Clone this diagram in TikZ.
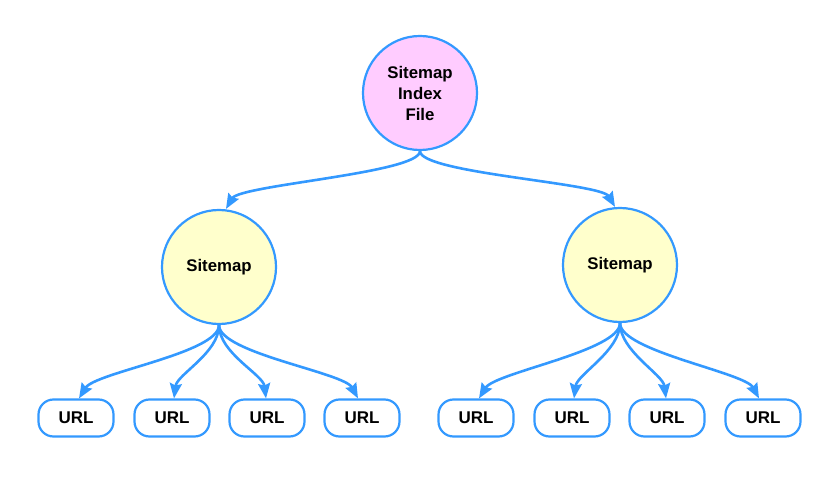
\documentclass[tikz,border=0pt]{standalone}
\usepackage{fontspec}
\setmainfont{Liberation Sans}
\usetikzlibrary{arrows.meta}
\definecolor{edgeblue}{HTML}{3399FF}
\definecolor{pinkfill}{HTML}{FFCCFF}
\definecolor{yellowfill}{HTML}{FFFFCC}
\begin{document}
\begin{tikzpicture}[x=1pt,y=-1pt,
  bigcircle/.style={circle,draw=edgeblue,line width=2.2pt,minimum size=114pt,inner sep=0pt,align=center,font=\fontsize{16.8}{21}\selectfont\bfseries},
  urlbox/.style={rectangle,rounded corners=15pt,draw=edgeblue,line width=2.2pt,fill=white,minimum width=75pt,minimum height=37pt,inner sep=0pt,font=\fontsize{17}{20}\selectfont\bfseries},
  link/.style={draw=edgeblue,line width=2.6pt,-{Stealth[length=15pt,width=12pt,inset=2pt]}}]
\useasboundingbox[fill=white] (0,0) rectangle (840,478);
% nodes
\node[bigcircle,fill=pinkfill] (idx) at (420,93) {Sitemap\\Index\\File};
\node[bigcircle,fill=yellowfill] (smL) at (219,267) {Sitemap};
\node[bigcircle,fill=yellowfill] (smR) at (620,265) {Sitemap};
\node[urlbox] (u1) at (76,418) {URL};
\node[urlbox] (u2) at (172,418) {URL};
\node[urlbox] (u3) at (267,418) {URL};
\node[urlbox] (u4) at (362,418) {URL};
\node[urlbox] (u5) at (476,418) {URL};
\node[urlbox] (u6) at (572,418) {URL};
\node[urlbox] (u7) at (667,418) {URL};
\node[urlbox] (u8) at (763,418) {URL};
% top connectors
\draw[link] (idx.south) .. controls +(0,22) and +(14,-24) .. ([xshift=7pt]smL.north);
\draw[link] (idx.south) .. controls +(0,22) and +(-14,-24) .. ([xshift=-5pt]smR.north);
% left group
\draw[link] (smL.south) .. controls +(0,28) and +(16,-26) .. ([xshift=3pt]u1.north);
\draw[link] (smL.south) .. controls +(0,28) and +(3,-24) .. ([xshift=2pt]u2.north);
\draw[link] (smL.south) .. controls +(0,28) and +(-3,-24) .. ([xshift=-1pt]u3.north);
\draw[link] (smL.south) .. controls +(0,28) and +(-14,-26) .. ([xshift=-4pt]u4.north);
% right group
\draw[link] (smR.south) .. controls +(0,28) and +(16,-26) .. ([xshift=3pt]u5.north);
\draw[link] (smR.south) .. controls +(0,28) and +(3,-24) .. ([xshift=2pt]u6.north);
\draw[link] (smR.south) .. controls +(0,28) and +(-3,-24) .. ([xshift=-1pt]u7.north);
\draw[link] (smR.south) .. controls +(0,28) and +(-14,-26) .. ([xshift=-4pt]u8.north);
\end{tikzpicture}
\end{document}
